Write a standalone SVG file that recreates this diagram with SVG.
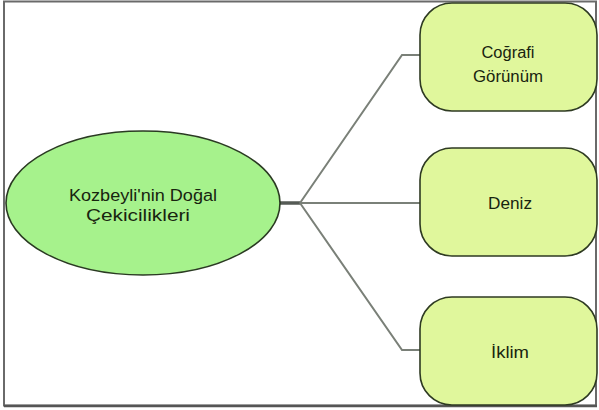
<svg xmlns="http://www.w3.org/2000/svg" width="599" height="410" viewBox="0 0 599 410">
<style>
.lbl{font-family:"Liberation Sans",Arial,sans-serif;font-size:16px;fill:#18240f;text-anchor:middle}
.box{fill:#e0f79c;stroke:#2e3a22;stroke-width:1.6}
.conn{fill:none;stroke:#7a8078;stroke-width:2}
</style>
<rect x="0" y="0" width="599" height="410" fill="#ffffff"/>
<rect x="4" y="1.5" width="592" height="404" fill="none" stroke="#6a6a6a" stroke-width="2"/>
<line x1="4" y1="406" x2="597" y2="406" stroke="#555" stroke-width="2.5"/>
<g id="connectors">
<line x1="279" y1="203" x2="300" y2="203" stroke="#555a55" stroke-width="3.5"/>
<polyline class="conn" points="300,203 402,55 421,55"/>
<line class="conn" x1="300" y1="203" x2="421" y2="203"/>
<polyline class="conn" points="300,203 402,350 421,350"/>
</g>
<g id="root">
<ellipse cx="143" cy="203" rx="137" ry="72" fill="#a6f28c" stroke="#2a3a22" stroke-width="1.6"/>
<text class="lbl" x="143" y="201" textLength="148" lengthAdjust="spacingAndGlyphs">Kozbeyli'nin Doğal</text>
<text class="lbl" x="138" y="221" textLength="104" lengthAdjust="spacingAndGlyphs">Çekicilikleri</text>
</g>
<g id="cografi">
<rect class="box" x="420" y="3" width="177" height="108" rx="32" ry="32"/>
<text class="lbl" x="508" y="58" textLength="53" lengthAdjust="spacingAndGlyphs">Coğrafi</text>
<text class="lbl" x="508" y="82" textLength="70" lengthAdjust="spacingAndGlyphs">Görünüm</text>
</g>
<g id="deniz">
<rect class="box" x="420" y="148" width="177" height="108" rx="32" ry="32"/>
<text class="lbl" x="510" y="209" textLength="44" lengthAdjust="spacingAndGlyphs">Deniz</text>
</g>
<g id="iklim">
<rect class="box" x="420" y="297" width="177" height="108" rx="32" ry="32"/>
<text class="lbl" x="510" y="358" textLength="38" lengthAdjust="spacingAndGlyphs">İklim</text>
</g>
</svg>
